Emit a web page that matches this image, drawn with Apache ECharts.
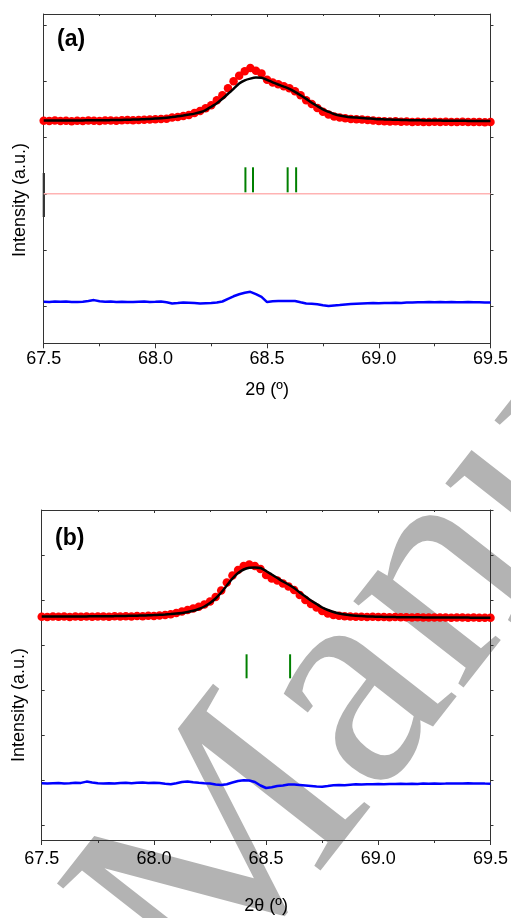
<!DOCTYPE html>
<html>
<head>
<meta charset="utf-8">
<title>XRD refinement</title>
<script src="https://cdn.jsdelivr.net/npm/echarts@6/dist/echarts.min.js"></script>
<style>
  html, body { margin: 0; padding: 0; background: #fff; }
  #chart { width: 511px; height: 918px; }
</style>
</head>
<body>
<div id="chart"></div>
<script>
// 2theta grid (degrees)
const twoTheta = [
  67.500, 67.525, 67.550, 67.575, 67.600, 67.625, 67.650, 67.675, 67.700, 67.725,
  67.750, 67.775, 67.800, 67.825, 67.850, 67.875, 67.900, 67.925, 67.950, 67.975,
  68.000, 68.025, 68.050, 68.075, 68.100, 68.125, 68.150, 68.175, 68.200, 68.225,
  68.250, 68.275, 68.300, 68.325, 68.350, 68.375, 68.400, 68.425, 68.450, 68.475,
  68.500, 68.525, 68.550, 68.575, 68.600, 68.625, 68.650, 68.675, 68.700, 68.725,
  68.750, 68.775, 68.800, 68.825, 68.850, 68.875, 68.900, 68.925, 68.950, 68.975,
  69.000, 69.025, 69.050, 69.075, 69.100, 69.125, 69.150, 69.175, 69.200, 69.225,
  69.250, 69.275, 69.300, 69.325, 69.350, 69.375, 69.400, 69.425, 69.450, 69.475,
  69.500
]
const xTicks = [67.5, 68.0, 68.5, 69.0, 69.5]

// panel (a)
const obsA = [
  222.5, 222.2, 222.7, 222.4, 222.5, 222.1, 222.6, 222.4, 222.8, 222.5,
  222.4, 222.7, 222.9, 222.6, 223.0, 223.2, 223.0, 223.3, 223.6, 223.8,
  224.0, 224.4, 224.6, 225.7, 226.2, 227.2, 228.4, 230.2, 232.4, 235.0,
  238.0, 243.0, 248.0, 255.0, 262.0, 267.5, 272.0, 275.3, 272.5, 269.7,
  263.5, 260.7, 259.0, 257.0, 255.0, 252.0, 248.0, 243.0, 239.2, 235.2,
  231.5, 228.7, 226.7, 225.7, 225.0, 224.4, 224.0, 223.7, 223.4, 222.8,
  222.2, 222.0, 221.7, 222.0, 221.5, 221.7, 221.3, 221.6, 221.4, 221.2,
  221.6, 221.3, 221.5, 221.2, 221.4, 221.5, 221.2, 221.4, 221.3, 221.1,
  221.3
]
const calcA = [
  222.7, 222.7, 222.7, 222.8, 222.8, 222.8, 222.9, 222.9, 223.0, 223.0,
  223.1, 223.1, 223.2, 223.3, 223.4, 223.5, 223.7, 223.9, 224.1, 224.4,
  224.7, 225.0, 225.5, 226.2, 227.0, 227.8, 228.7, 229.7, 231.0, 233.2,
  236.5, 240.0, 244.5, 249.5, 254.5, 259.8, 263.0, 264.7, 265.7, 265.5,
  263.5, 261.0, 258.8, 256.7, 254.5, 251.5, 248.0, 244.4, 240.5, 237.2,
  234.0, 231.5, 229.2, 227.8, 226.8, 226.1, 225.7, 225.3, 224.9, 224.5,
  224.1, 223.9, 223.7, 223.5, 223.4, 223.2, 223.1, 223.0, 222.9, 222.8,
  222.7, 222.7, 222.6, 222.6, 222.5, 222.5, 222.4, 222.4, 222.4, 222.3,
  222.3
]
const diffA = [
  41.5, 41.4, 41.7, 41.5, 41.8, 41.4, 41.2, 41.6, 42.2, 43.2,
  42.0, 41.5, 41.8, 41.4, 41.6, 41.4, 41.2, 41.5, 41.7, 41.4,
  41.5, 41.7, 41.0, 39.8, 40.2, 40.8, 40.5, 40.2, 39.8, 40.0,
  40.2, 40.8, 41.8, 44.5, 47.0, 49.0, 50.5, 51.5, 49.2, 46.5,
  41.2, 42.0, 42.2, 42.3, 42.4, 42.3, 41.0, 39.8, 39.5, 39.0,
  38.0, 37.2, 37.8, 38.2, 38.8, 39.2, 39.6, 39.8, 40.0, 40.2,
  40.1, 40.4, 40.2, 40.6, 40.3, 40.7, 40.9, 41.0, 41.1, 41.2,
  41.1, 41.3, 41.0, 41.2, 41.1, 41.0, 41.2, 41.1, 41.0, 40.9,
  40.7
]
const braggA = [68.403, 68.437, 68.592, 68.630]
const braggLevelA = [151, 176]
const zeroLineA = 149.5
const yTicksA = [36.8, 93.3, 149.3, 205.6, 261.8, 318.3]

// panel (b)
const obsB = [
  223.3, 223.1, 223.5, 223.2, 223.4, 223.1, 223.6, 223.3, 223.5, 223.2,
  223.4, 223.6, 223.3, 223.7, 223.5, 223.8, 223.6, 224.0, 223.8, 224.2,
  224.1, 224.6, 225.0, 225.8, 227.0, 228.5, 230.0, 231.5, 233.2, 235.5,
  238.5, 243.0, 249.5, 257.5, 264.5, 270.0, 274.0, 275.5, 274.0, 271.0,
  265.0, 261.5, 259.5, 256.5, 253.5, 250.0, 245.0, 240.0, 236.0, 232.5,
  229.0, 226.5, 225.0, 224.2, 223.7, 223.5, 223.2, 223.3, 223.0, 223.2,
  222.9, 223.0, 222.7, 222.9, 222.7, 222.8, 222.5, 222.7, 222.6, 222.4,
  222.6, 222.4, 222.5, 222.3, 222.5, 222.4, 222.2, 222.4, 222.3, 222.2,
  222.3
]
const calcB = [
  223.4, 223.4, 223.4, 223.5, 223.5, 223.5, 223.6, 223.6, 223.6, 223.7,
  223.7, 223.8, 223.8, 223.9, 224.0, 224.1, 224.2, 224.3, 224.5, 224.7,
  224.9, 225.2, 225.5, 225.9, 226.4, 227.1, 228.0, 229.2, 231.0, 233.5,
  237.0, 241.5, 247.5, 254.5, 261.5, 267.0, 270.5, 272.2, 272.5, 272.0,
  269.0, 265.5, 262.0, 258.5, 255.5, 252.0, 247.5, 243.5, 239.5, 236.0,
  232.5, 230.0, 228.0, 226.5, 225.4, 224.7, 224.2, 223.9, 223.6, 223.4,
  223.2, 223.1, 223.0, 222.9, 222.8, 222.8, 222.7, 222.7, 222.6, 222.6,
  222.5, 222.5, 222.5, 222.4, 222.4, 222.4, 222.4, 222.3, 222.3, 222.3,
  222.3
]
const diffB = [
  56.7, 56.5, 56.8, 57.0, 56.6, 56.7, 57.2, 57.1, 58.4, 57.5,
  56.7, 56.5, 56.8, 56.6, 57.0, 57.2, 56.8, 57.2, 57.4, 57.0,
  57.2, 57.0, 56.2, 55.7, 56.8, 58.0, 58.5, 57.8, 57.2, 56.8,
  56.5, 55.5, 55.0, 55.8, 57.5, 59.0, 59.8, 59.5, 58.0, 54.5,
  52.0, 52.8, 54.0, 54.5, 55.5, 55.5, 55.0, 54.5, 54.0, 53.5,
  53.3, 54.0, 54.8, 55.0, 54.7, 55.2, 55.7, 55.5, 55.8, 55.7,
  56.0, 55.8, 56.1, 55.9, 56.2, 56.0, 56.3, 56.1, 56.4, 56.2,
  56.5, 56.3, 56.4, 56.6, 56.4, 56.5, 56.7, 56.5, 56.6, 56.4,
  56.3
]
const braggB = [68.413, 68.607]
const braggLevelB = [161.7, 185.7]
const yTicksB = [15, 60, 105, 150, 195, 240, 285, 330]

const FONT = '"Liberation Sans", Arial, sans-serif'
const AXIS_COLOR = '#333'

function pairs(ys) {
  return twoTheta.map(function(x, i) {
    return [x, ys[i]]
  })
}

function braggData(xs, level) {
  return xs.map(function(x) {
    return [x, level[0], level[1]]
  })
}

function renderBragg(params, api) {
  const p0 = api.coord([api.value(0), api.value(1)])
  const p1 = api.coord([api.value(0), api.value(2)])
  return {
    type: 'line',
    shape: { x1: p0[0], y1: p0[1], x2: p1[0], y2: p1[1] },
    style: { stroke: '#008000', lineWidth: 2 }
  }
}

function bottomAxis(gridIndex, labelMargin, nameGap) {
  return {
    type: 'value',
    gridIndex: gridIndex,
    position: 'bottom',
    min: 67.5,
    max: 69.5,
    interval: 0.5,
    name: '2θ (º)',
    nameLocation: 'middle',
    nameGap: nameGap,
    nameTextStyle: { fontFamily: FONT, fontSize: 18, color: '#000' },
    axisLine: { show: true, onZero: false, lineStyle: { color: AXIS_COLOR, width: 1 } },
    axisTick: { show: true, inside: false, length: 5, lineStyle: { color: AXIS_COLOR } },
    minorTick: { show: true, splitNumber: 2, length: 3, lineStyle: { color: AXIS_COLOR } },
    axisLabel: {
      margin: labelMargin,
      fontFamily: FONT,
      fontSize: 18,
      color: '#000',
      showMinLabel: true,
      showMaxLabel: true,
      customValues: xTicks,
      formatter: function(v) { return v.toFixed(1) }
    },
    splitLine: { show: false }
  }
}

function topAxis(gridIndex) {
  return {
    type: 'value',
    gridIndex: gridIndex,
    position: 'top',
    min: 67.5,
    max: 69.5,
    interval: 0.5,
    axisLine: { show: true, onZero: false, lineStyle: { color: AXIS_COLOR, width: 1 } },
    axisTick: { show: true, inside: true, length: 3, lineStyle: { color: AXIS_COLOR } },
    minorTick: { show: true, splitNumber: 2, length: 2, lineStyle: { color: AXIS_COLOR } },
    axisLabel: { show: false },
    splitLine: { show: false }
  }
}

function sideAxis(gridIndex, position, max, ticks) {
  return {
    type: 'value',
    gridIndex: gridIndex,
    position: position,
    min: 0,
    max: max,
    axisLine: { show: true, onZero: false, lineStyle: { color: AXIS_COLOR, width: 1 } },
    axisTick: {
      show: true,
      inside: position === 'left',
      length: 3,
      customValues: ticks,
      lineStyle: { color: AXIS_COLOR }
    },
    axisLabel: { show: false },
    splitLine: { show: false }
  }
}

function panelSeries(xi, yi, obs, calc, diff, bragg, level) {
  return [
    {
      type: 'scatter',
      xAxisIndex: xi,
      yAxisIndex: yi,
      data: pairs(obs),
      symbol: 'circle',
      symbolSize: 8.5,
      itemStyle: { color: '#ff0000', opacity: 1 },
      silent: true
    },
    {
      type: 'line',
      xAxisIndex: xi,
      yAxisIndex: yi,
      data: pairs(calc),
      showSymbol: false,
      smooth: 0.2,
      lineStyle: { color: '#000', width: 2.5 },
      silent: true
    },
    {
      type: 'line',
      xAxisIndex: xi,
      yAxisIndex: yi,
      data: pairs(diff),
      showSymbol: false,
      lineStyle: { color: '#0000ff', width: 2.5 },
      silent: true
    },
    {
      type: 'custom',
      xAxisIndex: xi,
      yAxisIndex: yi,
      data: braggData(bragg, level),
      renderItem: renderBragg,
      silent: true
    }
  ]
}

const chart = echarts.init(document.getElementById('chart'), null, { renderer: 'canvas' })

const series = []
  .concat(panelSeries(0, 0, obsA, calcA, diffA, braggA, braggLevelA))
  .concat(panelSeries(2, 2, obsB, calcB, diffB, braggB, braggLevelB))

series.push({
  type: 'line',
  xAxisIndex: 0,
  yAxisIndex: 0,
  data: [[67.5, zeroLineA], [69.5, zeroLineA]],
  showSymbol: false,
  lineStyle: { color: '#ffb3b3', width: 1.5 },
  z: 1,
  silent: true
})

chart.setOption({
  animation: false,
  backgroundColor: '#fff',
  grid: [
    { left: 43.7, top: 14, width: 449.6, height: 329.3 },
    { left: 41.7, top: 510, width: 452.6, height: 330 }
  ],
  xAxis: [
    bottomAxis(0, 7, 38),
    topAxis(0),
    bottomAxis(1, 10, 57),
    topAxis(1)
  ],
  yAxis: [
    sideAxis(0, 'left', 329.3, yTicksA),
    sideAxis(0, 'right', 329.3, yTicksA),
    sideAxis(1, 'left', 330, yTicksB),
    sideAxis(1, 'right', 330, yTicksB)
  ],
  graphic: [
    {
      type: 'text',
      z: -10,
      silent: true,
      x: 266,
      y: 1058,
      rotation: 52 * Math.PI / 180,
      style: {
        text: 'Manuscript',
        font: '305px "Liberation Serif", "DejaVu Serif", serif',
        fill: '#b3b3b3',
        align: 'left',
        verticalAlign: 'bottom'
      }
    },
    {
      // thick stretch on the left frame of panel (a)
      type: 'rect',
      silent: true,
      shape: { x: 42.7, y: 173, width: 2.2, height: 44 },
      style: { fill: '#222' }
    },
    {
      type: 'text',
      x: 57,
      y: 40,
      style: { text: '(a)', font: 'bold 23px ' + FONT, fill: '#000', verticalAlign: 'middle' }
    },
    {
      type: 'text',
      x: 55,
      y: 539,
      style: { text: '(b)', font: 'bold 23px ' + FONT, fill: '#000', verticalAlign: 'middle' }
    },
    {
      type: 'text',
      x: 19.7,
      y: 200,
      rotation: Math.PI / 2,
      style: { text: 'Intensity (a.u.)', font: '18px ' + FONT, fill: '#000', align: 'center', verticalAlign: 'middle' }
    },
    {
      type: 'text',
      x: 18.8,
      y: 705,
      rotation: Math.PI / 2,
      style: { text: 'Intensity (a.u.)', font: '18px ' + FONT, fill: '#000', align: 'center', verticalAlign: 'middle' }
    }
  ],
  series: series
})
</script>
</body>
</html>
